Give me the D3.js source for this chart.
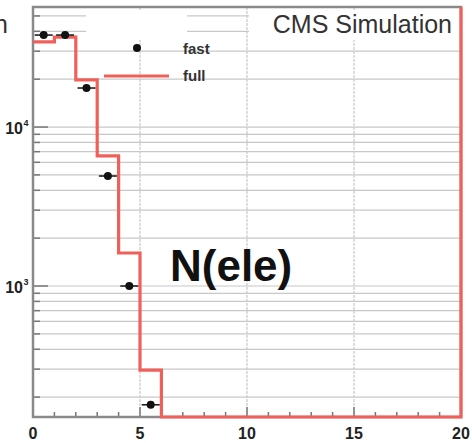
<!DOCTYPE html>
<html>
<head>
<meta charset="utf-8">
<script src="https://cdn.jsdelivr.net/npm/d3@7"></script>
<style>
  body { margin: 0; background: #fff; }
  text { font-family: "Liberation Sans", Arial, sans-serif; }
</style>
</head>
<body>
<script>
//histogram of electron multiplicity, bins of width 1 from 0 to 20
var binEdges = d3.range(0, 21);
var fullCounts = [34300, 36800, 19800, 6580, 1613, 296, 0, 0, 0, 0, 0, 0, 0, 0, 0, 0, 0, 0, 0, 0];
var fastCenters = [0.5, 1.5, 2.5, 3.5, 4.5, 5.5];
var fastCounts = [37900, 37900, 17600, 4920, 1000, 179];
var xTicks = [0, 5, 10, 15, 20];
var yDecades = [{ v: 1000, exp: "3" }, { v: 10000, exp: "4" }];

window.onload = drawChart();

function drawChart() {
    var width = 472,
        height = 443;

    var svg = d3.select("body")
        .append("svg")
        .attr("width", width)
        .attr("height", height);

    var x = d3.scaleLinear().domain([0, 20]).range([33, 461]);
    var y = d3.scaleLog().domain([150, 56900]).range([417, 7]).clamp(true);

    var gridCol = "#c8c8c8";

    //horizontal grid at every minor log value
    var yGrid = [];
    [100, 1000, 10000].forEach(function (d) {
        for (var k = 1; k < 10; k++) {
            var v = d * k;
            if (v > 150 && v < 56900) yGrid.push(v);
        }
    });

    svg.selectAll(".hgrid")
        .data(yGrid)
        .enter().append("line")
        .attr("class", "hgrid")
        .attr("x1", x(0)).attr("x2", x(20))
        .attr("y1", function (d) { return y(d); })
        .attr("y2", function (d) { return y(d); })
        .attr("stroke", gridCol)
        .attr("stroke-width", 1.2);

    svg.selectAll(".vgrid")
        .data([5, 10, 15])
        .enter().append("line")
        .attr("class", "vgrid")
        .attr("x1", function (d) { return x(d); })
        .attr("x2", function (d) { return x(d); })
        .attr("y1", y.range()[1]).attr("y2", y.range()[0])
        .attr("stroke", gridCol)
        .attr("stroke-width", 1.2)
        .attr("stroke-dasharray", "3,1");

    //white patches hiding the top grid lines (legend / label boxes)
    svg.append("rect").attr("x", 86).attr("y", 10).attr("width", 101).attr("height", 30).attr("fill", "#fff");
    svg.append("rect").attr("x", 249).attr("y", 10).attr("width", 211).attr("height", 30).attr("fill", "#fff");

    //ticks on y axis
    var yMinor = yGrid.filter(function (d) { return [1000, 10000].indexOf(d) < 0; });
    svg.selectAll(".ytick")
        .data(yGrid)
        .enter().append("line")
        .attr("x1", x(0))
        .attr("x2", function (d) { return x(0) + ([1000, 10000].indexOf(d) >= 0 ? 15 : 7); })
        .attr("y1", function (d) { return y(d); })
        .attr("y2", function (d) { return y(d); })
        .attr("stroke", "#777")
        .attr("stroke-width", 1.5);

    //ticks on x axis
    svg.selectAll(".xtick")
        .data(d3.range(0, 21))
        .enter().append("line")
        .attr("x1", function (d) { return x(d); })
        .attr("x2", function (d) { return x(d); })
        .attr("y1", y.range()[0])
        .attr("y2", function (d) { return y.range()[0] - (d % 5 === 0 ? 10 : 5); })
        .attr("stroke", "#777")
        .attr("stroke-width", 1.5);

    //frame
    svg.append("rect")
        .attr("x", x(0)).attr("y", y.range()[1])
        .attr("width", x(20) - x(0)).attr("height", y.range()[0] - y.range()[1])
        .attr("fill", "none")
        .attr("stroke", "#8a8a8a")
        .attr("stroke-width", 2.5);

    //full simulation: red step histogram
    var pts = [];
    fullCounts.forEach(function (c, i) {
        pts.push([x(binEdges[i]), y(c > 0 ? c : 1)]);
        pts.push([x(binEdges[i + 1]), y(c > 0 ? c : 1)]);
    });
    pts.push([x(20), y.range()[1]]);

    svg.append("path")
        .attr("d", d3.line()(pts))
        .attr("fill", "none")
        .attr("stroke", "#f0605a")
        .attr("stroke-width", 3.2);

    //fast simulation: points with x error bars
    var fast = fastCenters.map(function (c, i) { return { x: c, v: fastCounts[i] }; });
    svg.selectAll(".ebar")
        .data(fast)
        .enter().append("line")
        .attr("x1", function (d) { return x(d.x - 0.42); })
        .attr("x2", function (d) { return x(d.x + 0.42); })
        .attr("y1", function (d) { return y(d.v); })
        .attr("y2", function (d) { return y(d.v); })
        .attr("stroke", "#111")
        .attr("stroke-width", 1.5);
    svg.selectAll(".pt")
        .data(fast)
        .enter().append("circle")
        .attr("cx", function (d) { return x(d.x); })
        .attr("cy", function (d) { return y(d.v); })
        .attr("r", 4)
        .attr("fill", "#111");

    //legend
    svg.append("circle").attr("cx", 137).attr("cy", 48).attr("r", 4).attr("fill", "#111");
    svg.append("line").attr("x1", 104).attr("x2", 169).attr("y1", 76).attr("y2", 76)
        .attr("stroke", "#f0605a").attr("stroke-width", 3.2);
    svg.append("text").attr("x", 183).attr("y", 54).text("fast")
        .attr("font-size", 15).attr("font-weight", "bold").attr("fill", "#333");
    svg.append("text").attr("x", 183).attr("y", 81).text("full")
        .attr("font-size", 15).attr("font-weight", "bold").attr("fill", "#333");

    //x tick labels
    svg.selectAll(".xlab")
        .data(xTicks)
        .enter().append("text")
        .attr("x", function (d) { return x(d); })
        .attr("y", 439)
        .attr("text-anchor", "middle")
        .attr("font-size", 16)
        .attr("font-weight", "bold")
        .attr("fill", "#222")
        .text(function (d) { return d; });

    //y tick labels
    yDecades.forEach(function (d) {
        svg.append("text").attr("x", 23).attr("y", y(d.v) + 7)
            .attr("text-anchor", "end").attr("font-size", 16).attr("font-weight", "bold")
            .attr("fill", "#222").text("10");
        svg.append("text").attr("x", 23.5).attr("y", y(d.v) - 1)
            .attr("font-size", 9).attr("font-weight", "bold")
            .attr("fill", "#222").text(d.exp);
    });

    //labels
    svg.append("text").attr("x", 452).attr("y", 33).attr("text-anchor", "end")
        .attr("font-size", 25).attr("fill", "#333").text("CMS Simulation");
    svg.append("text").attr("x", 8).attr("y", 33).attr("text-anchor", "end")
        .attr("font-size", 25).attr("fill", "#333").text("CMS Simulation");
    svg.append("text").attr("x", 170).attr("y", 281)
        .attr("font-size", 44).attr("font-weight", "bold").attr("fill", "#111").text("N(ele)");
}
</script>
</body>
</html>
